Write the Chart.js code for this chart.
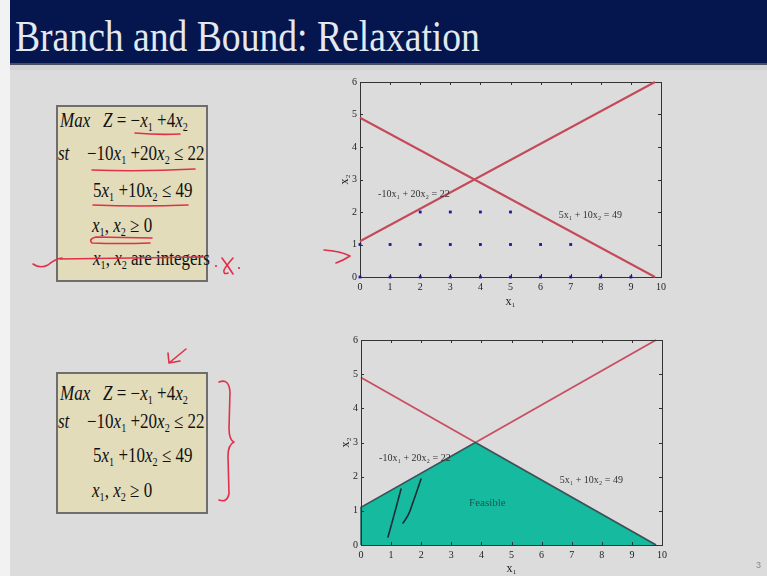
<!DOCTYPE html>
<html lang="en">
<head>
    <meta charset="UTF-8">
    <title>Branch and Bound: Relaxation</title>
    <script src="https://cdn.jsdelivr.net/npm/chart.js"></script>
    <style>
        body {
            margin: 0;
            width: 767px;
            height: 576px;
            position: relative;
            overflow: hidden;
            background-color: #dcdcdc;
            font-family: "Liberation Serif", "DejaVu Serif", serif;
        }

        .edge {
            position: absolute;
            left: 0;
            top: 0;
            width: 10px;
            height: 576px;
            background: #f2f2f2;
        }

        .header {
            position: absolute;
            left: 10px;
            top: 0;
            width: 757px;
            height: 63px;
            background: #05154d;
            border-bottom: 2px solid #4a4f60;
        }

        .strip {
            position: absolute;
            left: 10px;
            top: 65px;
            width: 757px;
            height: 5px;
            background: #d2d2d2;
        }

        .header h1 {
            position: absolute;
            left: 5px;
            top: 15px;
            margin: 0;
            font-size: 44px;
            line-height: 44px;
            font-weight: normal;
            color: #e4e8f0;
            white-space: nowrap;
            transform: scaleX(0.855);
            transform-origin: left top;
        }

        .box {
            position: absolute;
            background: #e3dcba;
            border: 2px solid #6e6e6e;
            box-sizing: border-box;
        }

        .ln {
            position: absolute;
            font-size: 20px;
            line-height: 20px;
            color: #111;
            white-space: nowrap;
            transform: scaleX(0.85);
            transform-origin: left top;
        }

        .ln i { font-style: italic; }
        .ln sub { font-size: 0.6em; vertical-align: -0.3em; line-height: 0; }

        canvas { position: absolute; }

        svg.ink {
            position: absolute;
            left: 0;
            top: 0;
            pointer-events: none;
        }

        .pageno {
            position: absolute;
            left: 756px;
            top: 560px;
            font-size: 9px;
            color: #888;
            font-family: "Liberation Sans", sans-serif;
        }
    </style>
</head>
<body>
<div class="edge"></div>
<div class="header"><h1>Branch and Bound: Relaxation</h1></div>
<div class="strip"></div>

<!-- integer program -->
<div class="box" style="left:56px;top:105px;width:152px;height:177px"></div>
<div class="ln" style="left:60px;top:110px"><i>Max</i></div>
<div class="ln" style="left:103px;top:110px"><i>Z</i> = −<i>x</i><sub>1</sub> +4<i>x</i><sub>2</sub></div>
<div class="ln" style="left:58px;top:143px"><i>st</i></div>
<div class="ln" style="left:87px;top:143px">−10<i>x</i><sub>1</sub> +20<i>x</i><sub>2</sub> ≤ 22</div>
<div class="ln" style="left:93px;top:180px">5<i>x</i><sub>1</sub> +10<i>x</i><sub>2</sub> ≤ 49</div>
<div class="ln" style="left:92px;top:215px"><i>x</i><sub>1</sub>, <i>x</i><sub>2</sub> ≥ 0</div>
<div class="ln" style="left:93px;top:248px"><i>x</i><sub>1</sub>, <i>x</i><sub>2</sub> are integers</div>

<!-- LP relaxation -->
<div class="box" style="left:56px;top:372px;width:152px;height:142px"></div>
<div class="ln" style="left:60px;top:383px"><i>Max</i></div>
<div class="ln" style="left:103px;top:383px"><i>Z</i> = −<i>x</i><sub>1</sub> +4<i>x</i><sub>2</sub></div>
<div class="ln" style="left:58px;top:411px"><i>st</i></div>
<div class="ln" style="left:87px;top:411px">−10<i>x</i><sub>1</sub> +20<i>x</i><sub>2</sub> ≤ 22</div>
<div class="ln" style="left:93px;top:445px">5<i>x</i><sub>1</sub> +10<i>x</i><sub>2</sub> ≤ 49</div>
<div class="ln" style="left:92px;top:480px"><i>x</i><sub>1</sub>, <i>x</i><sub>2</sub> ≥ 0</div>

<canvas id="intChart" width="360" height="245" style="left:320px;top:72px"></canvas>
<canvas id="lpChart" width="360" height="246" style="left:321px;top:330px"></canvas>

<!-- pen marks -->
<svg class="ink" width="767" height="576" fill="none" stroke-linecap="round" stroke-linejoin="round">
    <g stroke="#e0304a" stroke-width="1.6">
        <path d="M135,133 Q158,135 180,134"/>
        <path d="M92,170 Q140,172 195,169"/>
        <path d="M93,205 Q140,207 188,205"/>
        <path d="M152,238 L96,237 Q88,239 92,243 Q120,244 150,243"/>
        <path d="M60,259 Q130,258 203,257"/>
        <path d="M33,264 Q40,269 48,265 Q55,259 62,258"/>
        <path d="M222,258 Q228,266 233,274"/>
        <path d="M233,258 Q226,266 224,270 Q223,275 228,273"/>
        <path d="M324,250 Q340,251 350,256 Q344,260 336,263"/>
        <path d="M186,349 L169,363 M168,353 L169,363 L180,361"/>
        <path d="M219,382 Q229,378 230,392 L229,428 Q229,440 234,442 Q228,445 228,456 L229,494 Q227,503 219,500"/>
    </g>
    <g fill="#e0304a">
        <circle cx="216" cy="266" r="1.1"/>
        <circle cx="239" cy="268" r="1.1"/>
    </g>
    <g stroke="#1e2a3a" stroke-width="1.6">
        <path d="M388,537 Q395,512 401,489"/>
        <path d="M403,523 Q409,515 411,508 Q416,494 421,479"/>
    </g>
</svg>

<div class="pageno">3</div>

<script>
    // axis ranges and tick values
    const x1Ticks = [0, 1, 2, 3, 4, 5, 6, 7, 8, 9, 10];
    const x2Ticks = [0, 1, 2, 3, 4, 5, 6];

    // constraint lines: -10x1 + 20x2 = 22 and 5x1 + 10x2 = 49
    const lineAX = [0, 9.8];
    const lineAY = [1.1, 6.0];
    const lineBX = [0, 9.8];
    const lineBY = [4.9, 0];

    // integer points inside the region
    const intX = [0, 1, 2, 3, 4, 5, 6, 7, 8, 9, 0, 1, 2, 3, 4, 5, 6, 7, 2, 3, 4, 5];
    const intY = [0, 0, 0, 0, 0, 0, 0, 0, 0, 0, 1, 1, 1, 1, 1, 1, 1, 1, 2, 2, 2, 2];

    // corners of the LP feasible region
    const feasX = [0, 0, 3.8, 9.8];
    const feasY = [0, 1.1, 3.0, 0];

    // text written next to the lines
    const lineLabels = ['-10x\u2081 + 20x\u2082 = 22', '5x\u2081 + 10x\u2082 = 49'];
    const lineLabelX = [0.6, 6.6];
    const lineLabelY = [2.55, 1.9];
    const regionLabel = 'Feasible';
    const regionLabelX = [4.2];
    const regionLabelY = [1.22];

    const pts = (xs, ys) => xs.map((x, i) => ({ x: x, y: ys[i] }));

    function drawBox(chart) {
        const { ctx, chartArea: a, scales } = chart;
        ctx.save();
        ctx.strokeStyle = '#333';
        ctx.lineWidth = 1;
        ctx.strokeRect(Math.round(a.left) + 0.5, Math.round(a.top) + 0.5,
            Math.round(a.right - a.left), Math.round(a.bottom - a.top));
        ctx.beginPath();
        x1Ticks.forEach(v => {
            const px = Math.round(scales.x.getPixelForValue(v)) + 0.5;
            ctx.moveTo(px, a.bottom); ctx.lineTo(px, a.bottom - 3);
            ctx.moveTo(px, a.top); ctx.lineTo(px, a.top + 3);
        });
        x2Ticks.forEach(v => {
            const py = Math.round(scales.y.getPixelForValue(v)) + 0.5;
            ctx.moveTo(a.left, py); ctx.lineTo(a.left + 3, py);
            ctx.moveTo(a.right, py); ctx.lineTo(a.right - 3, py);
        });
        ctx.stroke();
        ctx.restore();
    }

    // box around the plot with inward ticks on every side, plus text labels
    const matlabBox = {
        id: 'matlabBox',
        beforeDatasetsDraw(chart, args, opts) {
            if (opts.under) drawBox(chart);
        },
        afterDatasetsDraw(chart, args, opts) {
            const { ctx, scales } = chart;
            if (!opts.under) drawBox(chart);
            ctx.save();
            ctx.fillStyle = '#333';
            ctx.font = '10px "Liberation Serif", serif';
            ctx.textBaseline = 'middle';
            ctx.textAlign = 'left';
            lineLabels.forEach((t, i) => {
                ctx.fillText(t, scales.x.getPixelForValue(lineLabelX[i]), scales.y.getPixelForValue(lineLabelY[i]));
            });
            if (opts.region) {
                ctx.fillStyle = '#1f5550';
                ctx.font = '11px "Liberation Serif", serif';
                ctx.textAlign = 'center';
                ctx.fillText(regionLabel, scales.x.getPixelForValue(regionLabelX[0]), scales.y.getPixelForValue(regionLabelY[0]));
            }
            ctx.restore();
        }
    };

    function axes(xHeight, xTitlePad) {
        const tickFont = { family: '"Liberation Serif", serif', size: 10 };
        const titleFont = { family: '"Liberation Serif", serif', size: 12 };
        return {
            x: {
                type: 'linear', min: 0, max: 10,
                afterFit: s => { s.height = xHeight; },
                afterBuildTicks: s => { s.ticks = x1Ticks.map(v => ({ value: v })); },
                grid: { display: false, drawTicks: false },
                border: { display: false },
                ticks: { color: '#222', font: tickFont, padding: 4, maxRotation: 0 },
                title: { display: true, text: 'x\u2081', color: '#222', font: titleFont, padding: { top: 0, bottom: xTitlePad } }
            },
            y: {
                type: 'linear', min: 0, max: 6,
                afterFit: s => { s.width = 40; },
                afterBuildTicks: s => { s.ticks = x2Ticks.map(v => ({ value: v })); },
                grid: { display: false, drawTicks: false },
                border: { display: false },
                ticks: { color: '#222', font: tickFont, padding: 3 },
                title: { display: true, text: 'x\u2082', color: '#222', font: titleFont, padding: { top: 18, bottom: 0 } }
            }
        };
    }

    function chartOptions(xHeight, xTitlePad, boxOpts) {
        return {
            responsive: false,
            animation: false,
            events: [],
            layout: { padding: { top: 10, right: 19, left: 0, bottom: 0 } },
            scales: axes(xHeight, xTitlePad),
            plugins: {
                legend: { display: false },
                tooltip: { enabled: false },
                matlabBox: boxOpts
            }
        };
    }

    new Chart(document.getElementById('intChart'), {
        type: 'scatter',
        data: {
            datasets: [
                {
                    data: pts(intX, intY),
                    pointStyle: 'rect', pointRadius: 2,
                    backgroundColor: '#1a1aa0', borderColor: '#1a1aa0', borderWidth: 0,
                    clip: false
                },
                {
                    data: pts(lineAX, lineAY), showLine: true, pointRadius: 0,
                    borderColor: '#c44a5a', borderWidth: 2, clip: false
                },
                {
                    data: pts(lineBX, lineBY), showLine: true, pointRadius: 0,
                    borderColor: '#c44a5a', borderWidth: 2, clip: false
                }
            ]
        },
        options: chartOptions(40, 8, { under: true, region: false }),
        plugins: [matlabBox]
    });

    new Chart(document.getElementById('lpChart'), {
        type: 'scatter',
        data: {
            datasets: [
                {
                    data: pts(feasX, feasY), showLine: true, pointRadius: 0,
                    fill: 'origin', backgroundColor: '#16bb9f',
                    borderColor: '#2f5a5c', borderWidth: 1.5, clip: false
                },
                {
                    data: pts(lineAX, lineAY), showLine: true, pointRadius: 0,
                    borderColor: '#c84e62', borderWidth: 1.8, clip: false
                },
                {
                    data: pts(lineBX, lineBY), showLine: true, pointRadius: 0,
                    borderColor: '#c84e62', borderWidth: 1.8, clip: false
                }
            ]
        },
        options: chartOptions(31, 0, { under: false, region: true }),
        plugins: [matlabBox]
    });
</script>
</body>
</html>
